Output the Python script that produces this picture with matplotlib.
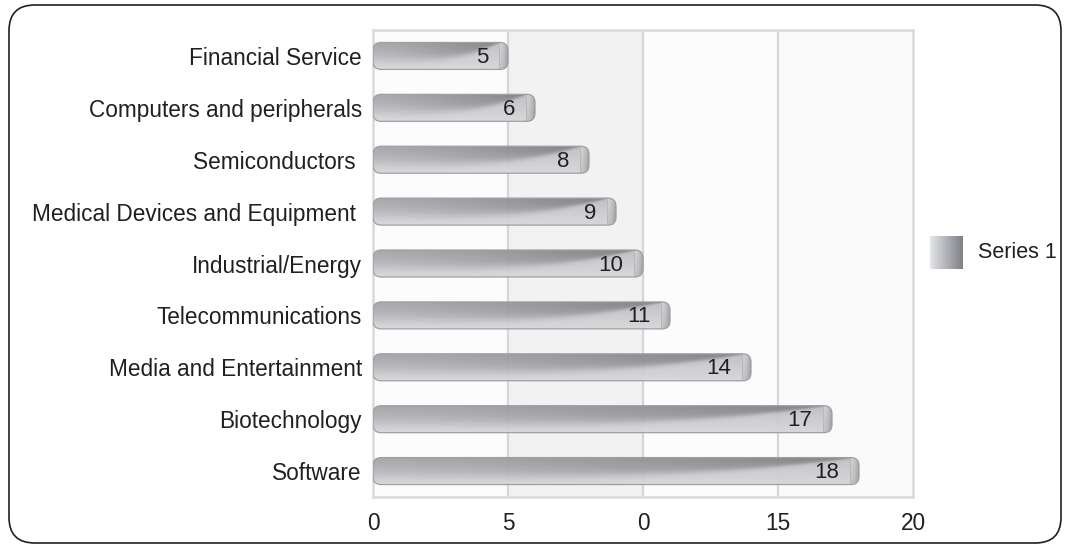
import numpy as np
import matplotlib

matplotlib.use("Agg")
import matplotlib.pyplot as plt
from matplotlib.patches import FancyBboxPatch

categories = [
    "Software",
    "Biotechnology",
    "Media and Entertainment",
    "Telecommunications",
    "Industrial/Energy",
    "Medical Devices and Equipment ",
    "Semiconductors ",
    "Computers and peripherals",
    "Financial Service",
]
values = [18, 17, 14, 11, 10, 9, 8, 6, 5]
xticks = [0, 5, 10, 15, 20]
xtick_labels = ["0", "5", "0", "15", "20"]
series_name = "Series 1"

plt.rcParams["font.family"] = ["Liberation Sans", "DejaVu Sans"]
INK = "#231f20"
GRID = "#d6d6d6"

W, H = 1070, 545
fig = plt.figure(figsize=(W / 100, H / 100), dpi=100)
fig.patch.set_facecolor("white")

# outer rounded frame
frame = FancyBboxPatch((9 / W, 2 / H), 1052 / W, 538 / H,
                       boxstyle="round,pad=0,rounding_size=0.024",
                       mutation_aspect=W / H, transform=fig.transFigure,
                       facecolor="none", edgecolor=INK, lw=1.2)
fig.patches.append(frame)

ax = fig.add_axes([373 / W, 48 / H, 540 / W, 467 / H])
ax.set_xlim(0, 20)
ax.set_ylim(-0.5, len(categories) - 0.5)
ax.set_facecolor("#fcfcfc")

# alternating bands + grid
ax.axvspan(5, 10, color="#f2f2f2", zorder=0, lw=0)
ax.axvspan(15, 20, color="#fafafa", zorder=0, lw=0)
for xv in xticks[1:-1]:
    ax.axvline(xv, color=GRID, lw=1.6, zorder=1)
for s in ax.spines.values():
    s.set_color("#dadada")
    s.set_linewidth(1.8)

# pixels per data unit, for round corners
px_x = 540 / 20
px_y = 467 / len(categories)
aspect = px_x / px_y


def bar_image(nu=300, nv=60):
    u = np.linspace(0, 1, nu)[None, :]
    t = np.linspace(1, 0, nv)[:, None]  # 1 = top row
    dark = 0.64 - 0.15 * u ** 1.3 + 0.10 * (1 - t)
    light = 0.77 + 0.09 * (1 - t) - 0.02 * u
    d = 0.68 * (1 - u ** 3.5)  # depth of the dark band from the top
    s = 0.14 * (1 - u) + 0.02
    w = 1 / (1 + np.exp(-(t - (1 - d)) / s))
    val = w * dark + (1 - w) * light
    img = np.stack([val, val, val + 0.015], axis=-1)
    return np.clip(img, 0, 1)


def cap_image(nu=12, nv=60):
    u = np.linspace(0, 1, nu)[None, :]
    t = np.linspace(1, 0, nv)[:, None]
    val = 0.82 - 0.16 * u ** 2 - 0.05 * (1 - t)
    val = val * np.ones((nv, nu))
    val[:, 0] = 0.70
    return np.stack([val, val, val + 0.01], axis=-1).clip(0, 1)


bar_h = 0.52
cap = 0.32
body = bar_image()
capimg = cap_image()
for i, v in enumerate(values):
    y0, y1 = i - bar_h / 2, i + bar_h / 2
    clip = FancyBboxPatch((0, y0), v, bar_h,
                          boxstyle="round,pad=0,rounding_size=0.3",
                          mutation_aspect=aspect,
                          facecolor="none", edgecolor="#a0a0a3", lw=0.9, zorder=4)
    ax.add_patch(clip)
    im = ax.imshow(body, extent=[0, v - cap, y0, y1], aspect="auto",
                   interpolation="bilinear", zorder=3, alpha=0.94)
    im.set_clip_path(clip)
    im2 = ax.imshow(capimg, extent=[v - cap, v, y0, y1], aspect="auto",
                    interpolation="bilinear", zorder=3)
    im2.set_clip_path(clip)
    ax.text(v - 0.72, i - 0.03, str(v), ha="right", va="center",
            fontsize=16, color=INK, zorder=5)

ax.set_xlim(0, 20)
ax.set_ylim(-0.5, len(categories) - 0.5)
ax.set_yticks(range(len(categories)))
ax.set_yticklabels(categories, fontsize=16.3, color=INK)
ax.set_xticks(xticks)
ax.set_xticklabels(xtick_labels, fontsize=16.3, color=INK)
ax.tick_params(length=0)
ax.tick_params(axis="y", pad=8)
ax.tick_params(axis="x", pad=11)

# legend swatch with gradient
lax = fig.add_axes([930 / W, (545 - 269) / H, 33 / W, 33 / H])
grad = np.linspace(0, 1, 50)[None, :, None]
lo = np.array([0.89, 0.90, 0.91])
hi = np.array([0.50, 0.50, 0.53])
lax.imshow(lo + (hi - lo) * grad * np.ones((10, 50, 3)), aspect="auto",
           interpolation="bilinear")
lax.set_axis_off()
fig.text(978 / W, (545 - 252) / H, series_name, fontsize=15.5, color=INK,
         ha="left", va="center")

fig.savefig("out.png", dpi=100)
